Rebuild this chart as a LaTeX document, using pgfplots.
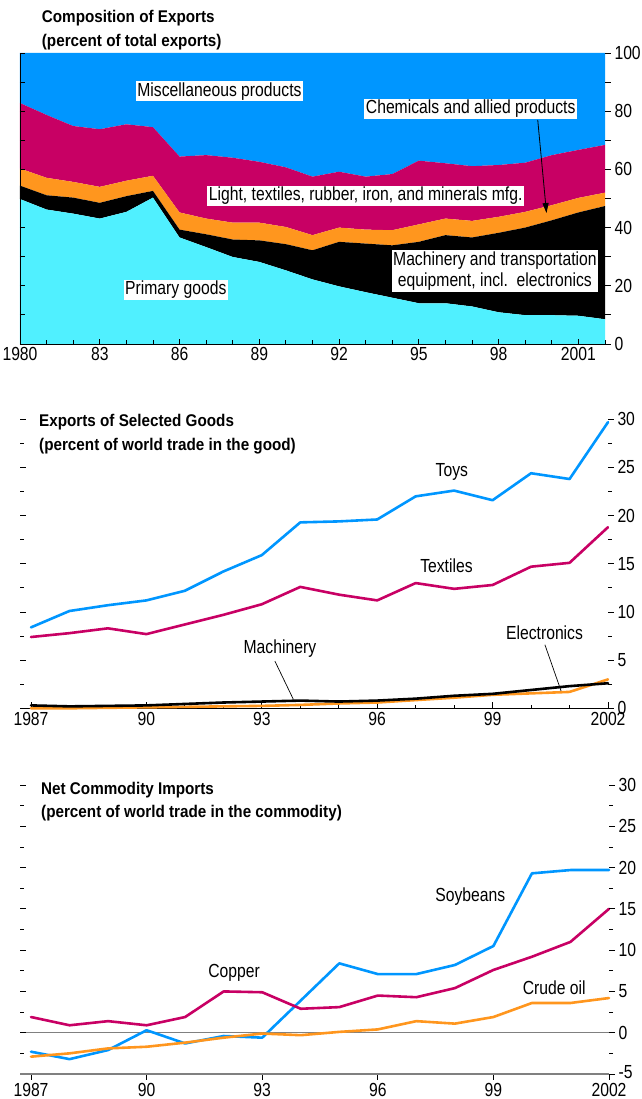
\documentclass[border=0pt]{standalone}
\usepackage{fontspec}
\setmainfont{Liberation Sans}[FakeStretch=0.83,BoldFeatures={FakeStretch=0.9}]
\usepackage{pgfplots}
\pgfplotsset{compat=1.18}
\usepackage{pgfplotstable}
\usetikzlibrary{arrows.meta}

\definecolor{cprim}{RGB}{80,240,255}
\definecolor{cmisc}{RGB}{0,150,255}
\definecolor{cmag}{RGB}{200,0,100}
\definecolor{corg}{RGB}{255,150,30}

\newcommand\lbl{\fontsize{19}{21}\selectfont}
\newcommand\ttl{\fontsize{17}{24}\selectfont\bfseries}

% composition of exports, layer thickness in percent
\pgfplotstableread{
year prim mach chem light misc
1980 49.8  4.6 5.9 22.5 17.2
1981 46.2  4.9 6.0 21.6 21.3
1982 44.8  5.5 5.4 19.2 25.1
1983 43.1  5.4 5.5 19.8 26.2
1984 45.4  5.4 5.3 19.4 24.5
1985 50.3  2.3 5.2 16.7 25.5
1986 36.6  2.7 5.9 19.2 35.6
1987 33.3  4.4 5.4 21.8 35.1
1988 29.9  6.0 5.8 22.3 36.0
1989 28.2  7.4 6.1 20.9 37.4
1990 25.3  9.0 5.9 20.5 39.3
1991 22.2 10.0 5.2 20.1 42.5
1992 19.8 15.3 4.9 19.2 40.8
1993 17.8 16.7 4.8 18.2 42.5
1994 15.9 18.0 5.2 19.3 41.6
1995 14.0 21.1 6.0 21.9 37.0
1996 14.0 23.4 5.7 19.0 37.9
1997 12.9 23.7 5.7 18.8 38.9
1998 10.9 27.3 5.5 17.8 38.5
1999  9.9 30.1 5.4 16.9 37.7
2000  9.9 32.6 5.2 17.2 35.1
2001  9.7 35.5 5.0 16.5 33.3
2002  8.5 38.9 4.6 16.4 31.6
}\comp

\pgfplotstableread{
year toys textiles machinery electronics
1987  8.4  7.4 0.30 0.00
1988 10.1  7.8 0.20 0.00
1989 10.7  8.3 0.25 0.05
1990 11.2  7.7 0.30 0.10
1991 12.2  8.7 0.45 0.15
1992 14.2  9.7 0.60 0.20
1993 15.9 10.8 0.70 0.25
1994 19.3 12.6 0.80 0.35
1995 19.4 11.8 0.70 0.50
1996 19.6 11.2 0.80 0.60
1997 22.0 13.0 1.00 0.85
1998 22.6 12.4 1.30 1.10
1999 21.6 12.8 1.50 1.40
2000 24.4 14.7 1.90 1.55
2001 23.8 15.1 2.30 1.70
2002 29.7 18.8 2.60 3.00
}\goods

\pgfplotstableread{
year soybeans copper crude
1987 -2.3  1.9 -2.9
1988 -3.2  0.9 -2.5
1989 -2.1  1.4 -1.9
1990  0.3  0.9 -1.7
1991 -1.3  1.9 -1.2
1992 -0.4  5.0 -0.6
1993 -0.6  4.9 -0.1
1994  3.9  2.9 -0.3
1995  8.4  3.1  0.1
1996  7.1  4.5  0.4
1997  7.1  4.3  1.4
1998  8.2  5.4  1.1
1999 10.5  7.6  1.9
2000 19.3  9.2  3.6
2001 19.7 11.0  3.6
2002 19.7 15.0  4.2
}\commod

\pgfplotsset{
  base/.style={scale only axis, anchor=south west,
    /pgf/number format/assume math mode=true,
    ticklabel style={font=\lbl},
    tick style={black, line width=0.8bp},
    axis line style={line width=0.8bp}},
  rightaxis/.style={base, hide x axis, axis y line*=right,
    y axis line style={draw=none}, tick align=outside,
    major tick length=6bp, minor tick length=4bp},
  ln/.style={line width=2.6bp, line join=round, line cap=round},
}
\tikzset{tag/.style={fill=white, inner sep=1.5bp, font=\lbl}}

\begin{document}
\begin{tikzpicture}
\useasboundingbox (0,0) rectangle (642bp,1099bp);

% ---------- panel 1 ----------
\begin{axis}[base, at={(20bp,755bp)}, width=585bp, height=291bp,
  xmin=1980, xmax=2002, ymin=0, ymax=100,
  axis on top, axis x line*=bottom, axis y line*=left,
  xtick={1980,1983,...,2001}, xticklabels={1980,83,86,89,92,95,98,2001},
  minor xtick={1980,...,2002},
  ytick={0,10,...,100}, yticklabels={},
  tick align=inside, major tick length=5bp, minor tick length=4bp,
  stack plots=y, area style]
\addplot[fill=cprim, draw=none] table[x=year,y=prim] {\comp} \closedcycle;
\addplot[fill=black, draw=none] table[x=year,y=mach] {\comp} \closedcycle;
\addplot[fill=corg, draw=none] table[x=year,y=chem] {\comp} \closedcycle;
\addplot[fill=cmag, draw=none] table[x=year,y=light] {\comp} \closedcycle;
\addplot[fill=cmisc, draw=none] table[x=year,y=misc] {\comp} \closedcycle;
\end{axis}
\begin{axis}[rightaxis, at={(20bp,755bp)}, width=585bp, height=291bp,
  xmin=1980, xmax=2002, ymin=0, ymax=100,
  ytick={0,20,...,100}, minor ytick={10,30,...,90}, minor tick length=6bp]
\node[tag] at (axis cs:1987.5,86.9) {Miscellaneous products};
\node[tag] at (axis cs:1996.95,80.8) {Chemicals and allied products};
\node[tag] at (axis cs:1993.0,50.9) {Light, textiles, rubber, iron, and minerals mfg.};
\node[tag, align=center] at (axis cs:1997.86,25.1) {Machinery and transportation\\equipment, incl.\ \ electronics};
\node[tag] at (axis cs:1985.86,18.6) {Primary goods};
\draw[line width=0.8bp, -{Triangle[length=10bp,width=6bp]}] (axis cs:1999.47,77.0) -- (axis cs:1999.8,45.0);
\end{axis}
\node[anchor=base west, align=left, font=\ttl, inner sep=0pt] at (41.7bp,1052.3bp)
  {Composition of Exports\\(percent of total exports)};

% ---------- panel 2 ----------
\begin{axis}[base, at={(20.5bp,390.7bp)}, width=587.5bp, height=289bp,
  xmin=1986.727, xmax=2002, ymin=0, ymax=30, clip=false,
  axis x line*=bottom, axis y line*=left, y axis line style={draw=none},
  xtick={1987,1990,...,2002}, xticklabels={1987,90,93,96,99,2002},
  minor xtick={1987,...,2002},
  ytick={0,5,...,30}, minor ytick={2.5,7.5,...,27.5}, yticklabels={},
  tick align=inside, major tick length=6bp, minor tick length=3.5bp]
\addplot[ln, cmisc] table[x=year,y=toys] {\goods};
\addplot[ln, cmag] table[x=year,y=textiles] {\goods};
\addplot[ln, corg] table[x=year,y=electronics] {\goods};
\addplot[ln, black] table[x=year,y=machinery] {\goods};
\node[font=\lbl] at (axis cs:1997.94,24.5) {Toys};
\node[font=\lbl] at (axis cs:1997.8,14.8) {Textiles};
\node[font=\lbl] at (axis cs:1993.47,6.2) {Machinery};
\node[font=\lbl] at (axis cs:2000.35,7.8) {Electronics};
\draw[line width=0.7bp] (axis cs:1993.34,4.9) -- (axis cs:1993.82,0.93);
\draw[line width=0.7bp] (axis cs:2000.36,6.6) -- (axis cs:2000.78,1.8);
\end{axis}
\begin{axis}[rightaxis, at={(20.5bp,390.7bp)}, width=587.5bp, height=289bp,
  xmin=1986.727, xmax=2002, ymin=0, ymax=30,
  ytick={0,5,...,30}, minor ytick={2.5,7.5,...,27.5}]
\end{axis}
\node[anchor=base west, align=left, font=\ttl, inner sep=0pt] at (39bp,648.3bp)
  {Exports of Selected Goods\\(percent of world trade in the good)};

% ---------- panel 3 ----------
\begin{axis}[base, at={(20.5bp,25bp)}, width=588.5bp, height=289bp,
  xmin=1986.727, xmax=2002, ymin=-5, ymax=30, clip=false,
  axis x line*=bottom, axis y line*=left, y axis line style={draw=none},
  x axis line style={gray, line width=1.2bp},
  xtick={1987,1990,...,2002}, xticklabels={1987,90,93,96,99,2002},
  x tick style={black, line width=0.8bp},
  xtick align=outside,
  ytick={-5,0,...,30}, minor ytick={-2.5,2.5,...,27.5}, yticklabels={},
  ytick align=inside, major tick length=6bp, minor tick length=3.5bp,
  extra y ticks={0}, extra y tick labels={},
  extra y tick style={grid=major, major grid style={gray, line width=1.5bp}}]
\addplot[ln, cmisc] table[x=year,y=soybeans] {\commod};
\addplot[ln, cmag] table[x=year,y=copper] {\commod};
\addplot[ln, corg] table[x=year,y=crude] {\commod};
\node[font=\lbl] at (axis cs:1998.4,16.5) {Soybeans};
\node[font=\lbl] at (axis cs:1992.27,7.3) {Copper};
\node[font=\lbl] at (axis cs:2000.58,5.4) {Crude oil};
\end{axis}
\begin{axis}[rightaxis, at={(20.5bp,25bp)}, width=588.5bp, height=289bp,
  xmin=1986.727, xmax=2002, ymin=-5, ymax=30,
  ytick={-5,0,...,30}, minor ytick={-2.5,2.5,...,27.5},
  yticklabels={\raisebox{5bp}{-5},0,5,10,15,20,25,30}]
\end{axis}
\node[anchor=base west, align=left, font=\ttl, inner sep=0pt] at (41bp,281bp)
  {Net Commodity Imports\\(percent of world trade in the commodity)};
\end{tikzpicture}
\end{document}
